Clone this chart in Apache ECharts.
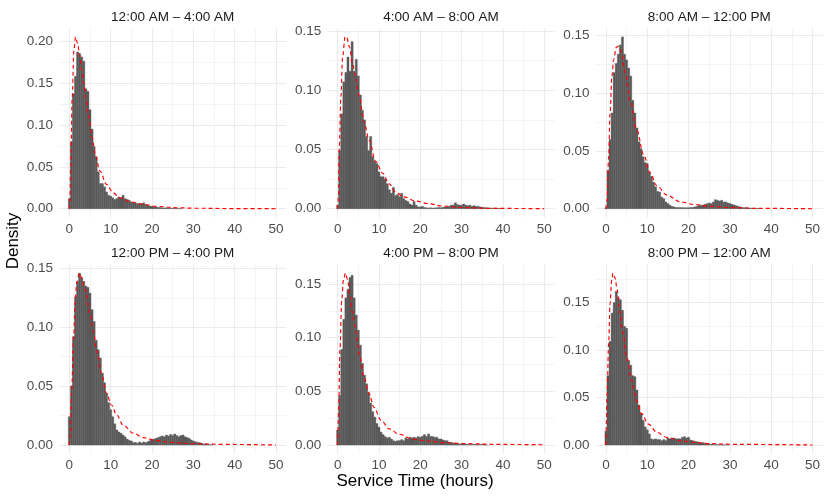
<!DOCTYPE html>
<html><head><meta charset="utf-8">
<script src="https://cdn.jsdelivr.net/npm/echarts@6/dist/echarts.min.js"></script>
<style>html,body{margin:0;padding:0;background:#fff}#c{width:830px;height:498px}</style>
</head><body><div id="c"></div>
<script>
// ---------- data ----------
const BIN_WIDTH = 0.5; // histogram bins centred at 0, 0.5, 1.0, ... hours
const panelTitles = ["12:00 AM – 4:00 AM","4:00 AM – 8:00 AM","8:00 AM – 12:00 PM",
                     "12:00 PM – 4:00 PM","4:00 PM – 8:00 PM","8:00 PM – 12:00 AM"];
const xTicks = [0,10,20,30,40,50];
const xMinor = [5,15,25,35,45];
const yTicks1 = [0,0.05,0.10,0.15,0.20];
const yTicks = [0,0.05,0.10,0.15];

const hist1 = [0.012,0.08,0.137,0.158,0.187,0.185,0.181,0.176,0.143,0.14,0.118,0.095,0.074,0.062,0.044,0.03,0.03,0.026,0.02,0.016,
  0.015,0.013,0.011,0.012,0.014,0.013,0.016,0.012,0.011,0.01,0.008,0.007,0.007,0.006,0.006,0.006,0.007,0.005,0.004,0.003,
  0.003,0.002,0.002,0.0015,0.0015,0.001,0.001,0.001,0.0008,0.0006,0.0005,0.0004,0.0003,0.0003,0.0002];
const hist2 = [0.003,0.049,0.08,0.107,0.115,0.128,0.116,0.141,0.116,0.126,0.112,0.096,0.083,0.075,0.061,0.049,0.061,0.044,0.04,0.038,
  0.031,0.027,0.027,0.025,0.021,0.016,0.013,0.018,0.011,0.012,0.010,0.013,0.0085,0.007,0.006,0.004,0.003,0.006,0.003,0.0015,
  0.0015,0.002,0.001,0.0008,0.0006,0.0008,0.0005,0.0007,0.0008,0.001,0.0008,0.0012,0.0015,0.0015,0.002,0.003,0.003,0.005,0.0035,0.003,
  0.003,0.004,0.003,0.0025,0.003,0.002,0.0025,0.002,0.002,0.0015,0.0012,0.001,0.0008,0.0006,0.0005,0.0005,0.0004,0.0003,0.0003,0.0002];
const hist3 = [0.001,0.033,0.06,0.083,0.118,0.126,0.134,0.142,0.149,0.134,0.129,0.122,0.115,0.094,0.083,0.07,0.058,0.052,0.045,0.04,
  0.039,0.032,0.028,0.023,0.019,0.015,0.0145,0.010,0.0087,0.0058,0.0044,0.003,0.002,0.0015,0.001,0.001,0.001,0.0009,0.0009,0.0008,
  0.0009,0.001,0.0012,0.0015,0.002,0.003,0.003,0.0032,0.0038,0.0044,0.005,0.0044,0.0058,0.0078,0.0073,0.0067,0.0073,0.0058,0.0058,0.005,
  0.0044,0.0038,0.0032,0.0026,0.002,0.0015,0.001,0.0009,0.0008,0.0006,0.0005,0.0004,0.0003,0.0003,0.0002];
const hist4 = [0.024,0.05,0.092,0.126,0.139,0.146,0.142,0.139,0.135,0.134,0.129,0.115,0.105,0.089,0.081,0.074,0.061,0.053,0.044,0.036,
  0.030,0.024,0.018,0.0128,0.011,0.010,0.0085,0.007,0.005,0.004,0.0034,0.002,0.0023,0.0014,0.0026,0.0017,0.0026,0.002,0.0028,0.0037,
  0.0043,0.005,0.0057,0.0063,0.007,0.0077,0.007,0.0085,0.0077,0.009,0.008,0.0094,0.008,0.007,0.008,0.0085,0.007,0.0063,0.0057,0.0043,
  0.0034,0.0028,0.0023,0.002,0.0014,0.001,0.0008,0.0005,0.0003,0.0002];
const hist5 = [0.014,0.046,0.089,0.117,0.137,0.145,0.156,0.158,0.137,0.121,0.107,0.093,0.076,0.065,0.057,0.049,0.039,0.031,0.026,0.020,
  0.0166,0.012,0.0097,0.0078,0.0066,0.0072,0.0056,0.004,0.0034,0.004,0.004,0.005,0.004,0.0066,0.0056,0.0072,0.0066,0.0072,0.0066,0.0078,
  0.0072,0.0081,0.0097,0.0081,0.0103,0.0081,0.0078,0.0072,0.0072,0.0056,0.0056,0.0047,0.004,0.004,0.0025,0.0025,0.0019,0.0016,0.0013,0.001,
  0.001,0.001,0.001,0.0005,0.0005,0.0005,0.0005,0.0005,0.0005,0.0005,0.0005,0.0002,0.0002];
const hist6 = [0.0145,0.073,0.109,0.139,0.150,0.162,0.155,0.153,0.142,0.125,0.123,0.089,0.084,0.073,0.072,0.058,0.042,0.033,0.026,0.019,
  0.016,0.0117,0.0064,0.0057,0.0064,0.0057,0.0057,0.0046,0.0057,0.0046,0.0074,0.0064,0.0071,0.0074,0.0064,0.0067,0.0064,0.0081,0.0088,0.0074,
  0.0081,0.0053,0.0046,0.0039,0.0035,0.0028,0.0021,0.0025,0.0018,0.0012,0.001,0.0008,0.0006,0.0004,0.0004,0.0003,0.0003,0.0002,0.0002,0.0001];

// fitted density curves: [hours, density]
const curve1 = [[0,0],[0.1,0.004],[0.35,0.054],[0.7,0.133],[1.1,0.189],[1.5,0.205],[2,0.197],[2.5,0.183],[3,0.166],[3.5,0.15],
  [4,0.133],[4.6,0.113],[5.5,0.085],[6.4,0.062],[7.4,0.045],[9,0.029],[10.6,0.019],[12.2,0.013],[15,0.008],[18,0.0052],
  [21,0.0028],[26,0.0012],[30,0.0006],[40,0.0001],[50,0]];
const curve2 = [[0,0],[0.2,0.01],[0.4,0.052],[0.8,0.095],[1.2,0.128],[1.8,0.145],[2.2,0.145],[2.8,0.137],[3.6,0.123],[4.4,0.109],
  [5.2,0.095],[6.4,0.073],[7.6,0.058],[9.2,0.04],[10.9,0.03],[12.5,0.021],[14,0.014],[16,0.01],[18.9,0.0065],[22,0.0042],
  [25.3,0.0023],[30,0.001],[36.6,0.0003],[50,0]];
const curve3 = [[0,0],[0.3,0.008],[0.65,0.045],[1,0.083],[1.45,0.115],[1.85,0.129],[2.5,0.14],[3.05,0.141],[3.6,0.137],[4.7,0.118],
  [5.9,0.094],[7.5,0.068],[9.1,0.047],[10.7,0.031],[12.3,0.02],[14.7,0.012],[18,0.006],[21.2,0.0038],[25.2,0.002],[30.8,0.0009],
  [37.3,0.0003],[50,0]];
const curve4 = [[0,0],[0.25,0.008],[0.55,0.044],[1,0.087],[1.4,0.121],[1.8,0.138],[2.4,0.146],[3,0.142],[3.8,0.132],[5,0.112],
  [5.8,0.097],[6.6,0.08],[7.8,0.061],[9,0.044],[10.2,0.034],[11.4,0.026],[13,0.017],[15.5,0.01],[17.9,0.0063],[21.1,0.0037],
  [24.3,0.0023],[30,0.0011],[38,0.0005],[50,0]];
const curve5 = [[0,0],[0.25,0.032],[0.55,0.088],[1,0.135],[1.4,0.154],[1.9,0.16],[2.4,0.154],[3,0.138],[3.6,0.123],[4.4,0.106],
  [5.4,0.082],[6.4,0.063],[7.6,0.048],[8.8,0.035],[10.5,0.023],[12.5,0.015],[14.9,0.01],[18.1,0.0056],[21.3,0.004],[25.3,0.0022],
  [31,0.0013],[38.2,0.0006],[50,0.0002]];
const curve6 = [[0,0],[0.3,0.054],[0.65,0.107],[1,0.149],[1.4,0.174],[1.7,0.181],[2.2,0.176],[2.7,0.164],[3.3,0.142],[4.1,0.119],
  [5,0.093],[6.2,0.068],[7.4,0.047],[8.6,0.033],[10.3,0.022],[12.3,0.0134],[14.7,0.0081],[18,0.0046],[21.2,0.0028],[25.3,0.0014],
  [31.7,0.0007],[50,0]];

const hists = [hist1,hist2,hist3,hist4,hist5,hist6];
const curves = [curve1,curve2,curve3,curve4,curve5,curve6];
const panelYTicks = [yTicks1,yTicks,yTicks,yTicks,yTicks,yTicks];

// ---------- layout ----------
const FONT = '"Liberation Sans", Arial, Helvetica, sans-serif';
const GRID_LEFTS = [59, 327.3, 595.6];
const GRID_TOPS = [28.3, 264.6];
const GRID_W = 227.3, GRID_H = 189;
const X_MIN = -2.5, X_MAX = 52.5;
const GRID_COLOR = '#EBEBEB';
const BAR_COLOR = '#595959';

const grids = [], xAxes = [], yAxes = [], series = [], titles = [];
for (let i = 0; i < 6; i++) {
  const col = i % 3, row = Math.floor(i / 3);
  grids.push({left: GRID_LEFTS[col], top: GRID_TOPS[row], width: GRID_W, height: GRID_H, containLabel: false});
  const h = hists[i], c = curves[i];
  const R = Math.max(Math.max.apply(null, h), Math.max.apply(null, c.map(p => p[1])));
  const yMin = -0.05 * R, yMax = 1.05 * R;
  const majors = panelYTicks[i];
  const step = majors[1] - majors[0];
  const minors = [];
  for (let k = 0; k <= majors.length; k++) {
    const m = +(k * step + step / 2).toFixed(4);
    if (m <= yMax) minors.push(m);
  }
  xAxes.push({gridIndex: i, type: 'value', min: X_MIN, max: X_MAX, position: 'bottom',
    axisLine: {show: false},
    axisTick: {show: false, customValues: xTicks},
    axisLabel: {customValues: xTicks, color: '#4D4D4D', fontSize: 13.5, fontFamily: FONT, margin: 5},
    splitLine: {show: true, lineStyle: {color: GRID_COLOR, width: 1.1}}});
  xAxes.push({gridIndex: i, type: 'value', min: X_MIN, max: X_MAX, position: 'top',
    axisLine: {show: false}, axisTick: {show: false, customValues: xMinor},
    axisLabel: {show: false, customValues: xMinor},
    splitLine: {show: true, lineStyle: {color: GRID_COLOR, width: 0.55}}});
  yAxes.push({gridIndex: i, type: 'value', min: yMin, max: yMax, position: 'left',
    axisLine: {show: false},
    axisTick: {show: false, customValues: majors},
    axisLabel: {customValues: majors, color: '#4D4D4D', fontSize: 13.5, fontFamily: FONT, margin: 6,
      formatter: v => v.toFixed(2)},
    splitLine: {show: true, lineStyle: {color: GRID_COLOR, width: 1.1}}});
  yAxes.push({gridIndex: i, type: 'value', min: yMin, max: yMax, position: 'right',
    axisLine: {show: false}, axisTick: {show: false, customValues: minors},
    axisLabel: {show: false, customValues: minors},
    splitLine: {show: true, lineStyle: {color: GRID_COLOR, width: 0.55}}});

  series.push({
    type: 'custom', xAxisIndex: 2 * i, yAxisIndex: 2 * i, z: 2,
    data: h.map((v, k) => [k * BIN_WIDTH, v]),
    renderItem: function (params, api) {
      const x = api.value(0), y = api.value(1);
      const p0 = api.coord([x - BIN_WIDTH / 2, y]);
      const p1 = api.coord([x + BIN_WIDTH / 2, 0]);
      return {type: 'rect',
        shape: {x: p0[0], y: p0[1], width: p1[0] - p0[0], height: p1[1] - p0[1]},
        style: {fill: BAR_COLOR, stroke: BAR_COLOR, lineWidth: 0.4}};
    }
  });
  series.push({
    type: 'line', xAxisIndex: 2 * i, yAxisIndex: 2 * i, z: 3,
    data: c, showSymbol: false, smooth: 0.35, smoothMonotone: 'x',
    lineStyle: {color: '#FF0000', width: 1.15, type: [4, 3]}
  });
  titles.push({text: panelTitles[i], left: GRID_LEFTS[col] + GRID_W / 2, top: GRID_TOPS[row] - 18,
    textAlign: 'center', padding: 0,
    textStyle: {fontSize: 13.5, fontWeight: 'normal', color: '#1A1A1A', fontFamily: FONT}});
}

const chart = echarts.init(document.getElementById('c'), null, {renderer: 'canvas'});
chart.setOption({
  animation: false,
  backgroundColor: '#FFFFFF',
  title: titles,
  grid: grids, xAxis: xAxes, yAxis: yAxes, series: series,
  graphic: [
    {type: 'text', left: 'center', top: 473, style: {text: 'Service Time (hours)', fontSize: 17, fill: '#000', fontFamily: FONT}},
    {type: 'text', x: 5, y: 241, rotation: Math.PI / 2,
      style: {text: 'Density', fontSize: 17, fill: '#000', fontFamily: FONT, align: 'center', verticalAlign: 'top'}}
  ]
});
</script></body></html>
